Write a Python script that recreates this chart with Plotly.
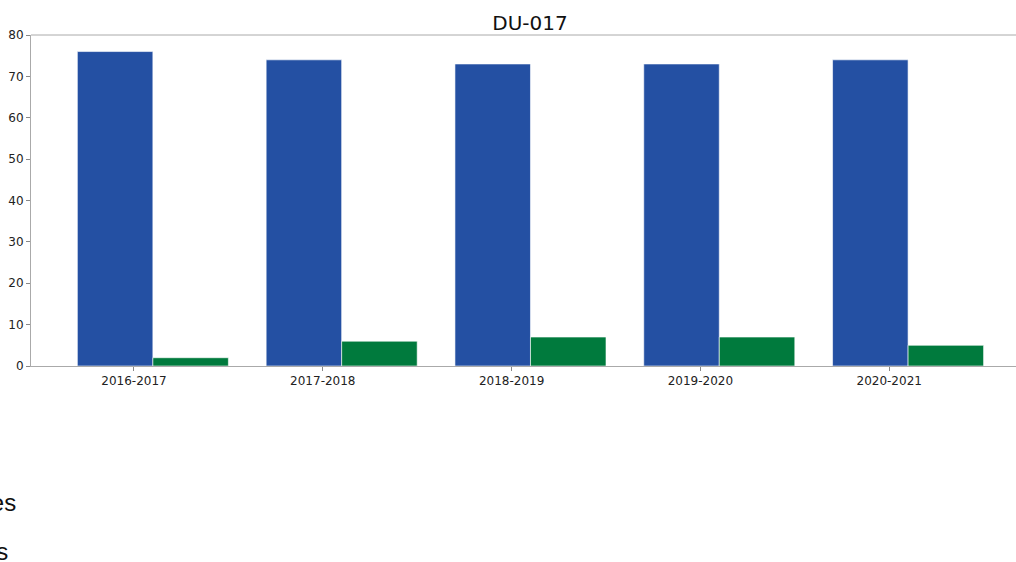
import plotly.graph_objects as go

categories = ["2016-2017", "2017-2018", "2018-2019", "2019-2020", "2020-2021"]
series1_name = "Enrolled Candidates"
series2_name = "Passed Candidates"
series1_values = [76, 74, 73, 73, 74]
series2_values = [2, 6, 7, 7, 5]
y_ticks = [0, 10, 20, 30, 40, 50, 60, 70, 80]

W, H = 1016, 562
PLOT_TOP, PLOT_BOTTOM, PLOT_LEFT = 35, 366, 31
plot_h = PLOT_BOTTOM - PLOT_TOP
plot_w = W - PLOT_LEFT

fig = go.Figure()
fig.add_trace(go.Bar(
    x=categories, y=series1_values, name=series1_name, legendgroup="g1",
    marker=dict(color="#2450A3", line=dict(color="rgba(255,255,255,0.6)", width=1)),
    width=0.4, offset=-0.3,
))
fig.add_trace(go.Bar(
    x=categories, y=series2_values, name=series2_name, legendgroup="g2",
    marker=dict(color="#007A3D", line=dict(color="rgba(255,255,255,0.6)", width=1)),
    width=0.4, offset=0.1,
))

fig.update_layout(
    width=W, height=H,
    margin=dict(l=PLOT_LEFT, r=0, t=PLOT_TOP, b=H - PLOT_BOTTOM, pad=0, autoexpand=False),
    paper_bgcolor="white", plot_bgcolor="white",
    title=dict(text="DU-017", x=530 / W, xanchor="center", y=1 - 23 / H, yanchor="middle",
               font=dict(family="DejaVu Sans", size=20, color="#111")),
    barmode="group",
    showlegend=True,
    legend=dict(orientation="v", x=(-240 - PLOT_LEFT) / plot_w, xanchor="left",
                y=(PLOT_BOTTOM - 480) / plot_h, yanchor="top",
                font=dict(family="Liberation Sans", size=24, color="#111"),
                tracegroupgap=14, itemsizing="constant", bgcolor="rgba(0,0,0,0)"),
    xaxis=dict(type="category", range=[-0.5455, (1016 - 134) / 188.8],
               showline=True, linecolor="#aaaaaa", linewidth=1, mirror=False,
               ticks="outside", ticklen=4, tickcolor="#888", showgrid=False,
               tickfont=dict(family="DejaVu Sans", size=12, color="#222"), fixedrange=True),
    yaxis=dict(range=[0, 80], tickvals=y_ticks, showline=True, linecolor="#aaaaaa", linewidth=1,
               ticks="outside", ticklen=4, tickcolor="#888", showgrid=False, zeroline=False,
               tickfont=dict(family="DejaVu Sans", size=12, color="#222")),
    shapes=[dict(type="line", xref="paper", yref="paper", x0=0, x1=1, y0=1, y1=1,
                 line=dict(color="#aaaaaa", width=1))],
)

fig.write_html("out.html", config={"displayModeBar": False},
               post_script="document.body.style.margin='0px';")
